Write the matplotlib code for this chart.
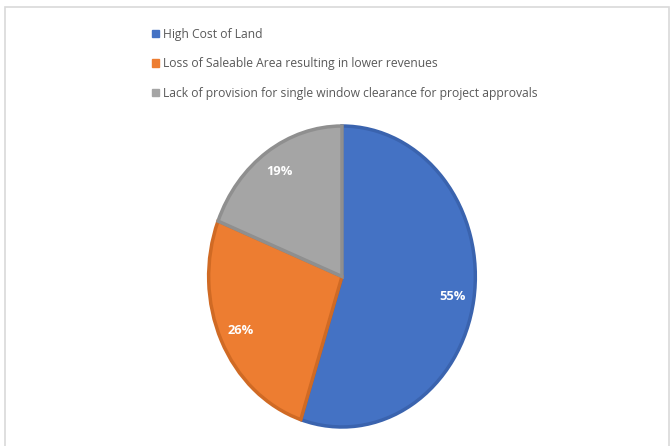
import matplotlib.pyplot as plt
from matplotlib.patches import Rectangle, Patch

labels = ["High Cost of Land",
          "Loss of Saleable Area resulting in lower revenues",
          "Lack of provision for single window clearance for project approvals"]
shares = [55, 26, 19]
colors = ["#4472C4", "#ED7D31", "#A5A5A5"]
edges = ["#3A63AE", "#D06A24", "#8F8F8F"]

fig = plt.figure(figsize=(6.7, 4.46), dpi=100)
fig.patch.set_facecolor("white")

# chart area border
fig.add_artist(Rectangle((5 / 670, -0.01), 664 / 670, 1 - 7 / 446 + 0.01,
                         transform=fig.transFigure, fill=False,
                         edgecolor="#D9D9D9", linewidth=1.2))

ax = fig.add_axes([206 / 670, 16 / 446, 272 / 670, 307 / 446])
wedges, _, autotexts = ax.pie(shares, colors=colors, startangle=90, counterclock=False,
                              autopct="%d%%", pctdistance=0.84,
                              wedgeprops=dict(linewidth=2.5),
                              textprops=dict(color="white", fontweight="bold", fontsize=9.3,
                                             family="Open Sans"))
for w, ec in zip(wedges, edges):
    w.set_edgecolor(ec)
ax.set_aspect("auto")
ax.set_xlim(-1.02, 1.02)
ax.set_ylim(-1.02, 1.02)
ax.axis("off")

# legend stacked above the pie
handles = [Patch(facecolor=c, edgecolor=c) for c in colors]
leg = fig.legend(handles, labels, loc="upper left", bbox_to_anchor=(141 / 670, 1 - 17 / 446),
                 frameon=False, handlelength=0.6, handleheight=0.6, handletextpad=0.3,
                 labelspacing=1.36, prop=dict(family="Open Sans", size=8.7))
for t in leg.get_texts():
    t.set_color("#595959")

fig.savefig("out.png", dpi=100)
